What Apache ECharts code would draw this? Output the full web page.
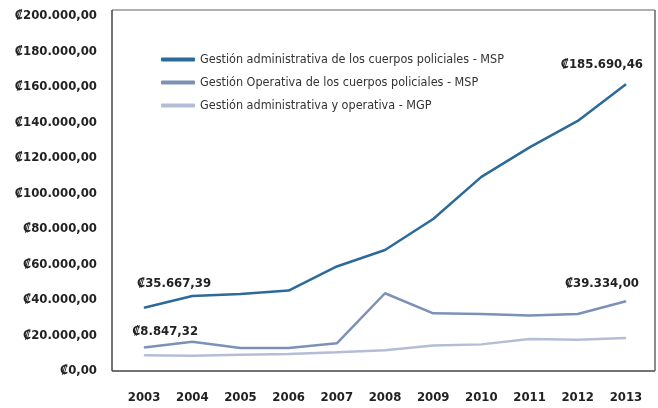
<!DOCTYPE html>
<html><head><meta charset="utf-8">
<script src="https://cdn.jsdelivr.net/npm/echarts@6/dist/echarts.min.js"></script>
<style>html,body{margin:0;padding:0;background:#fff}#c{width:658px;height:408px}</style>
</head><body><div id="c"></div>
<script>
const years = ['2003','2004','2005','2006','2007','2008','2009','2010','2011','2012','2013'];
const seriesNames = [
  'Gestión administrativa de los cuerpos policiales - MSP',
  'Gestión Operativa de los cuerpos policiales - MSP',
  'Gestión administrativa y operativa - MGP'
];
const adminMSP = [35667, 42300, 43400, 45300, 58900, 68200, 85600, 109400, 126000, 140900, 161500];
const operMSP  = [13300, 16500, 13000, 13000, 15600, 43800, 32500, 32100, 31200, 32100, 39300];
const mgp      = [8847, 8600, 9200, 9600, 10500, 11700, 14300, 15000, 18000, 17600, 18600];
const yTicks = [0, 20000, 40000, 60000, 80000, 100000, 120000, 140000, 160000, 180000, 200000];
const annotAdminStart = '₡35.667,39';
const annotAdminEnd = '₡185.690,46';
const annotOperEnd = '₡39.334,00';
const annotMgpStart = '₡8.847,32';

const FONT = '"DejaVu Sans Condensed","Liberation Sans Narrow",sans-serif';
const colors = ['#2c6a9a', '#7b91b6', '#b3bdd6'];

function fmt(v){
  const s = String(v).replace(/\B(?=(\d{3})+(?!\d))/g, '.');
  return '₡' + s + ',00';
}
function lbl(text, offset){
  return {show:true, position:'top', offset:offset, formatter:text,
    fontFamily:FONT, fontWeight:'bold', fontSize:13, color:'#222'};
}
function withLabels(arr, map){
  return arr.map((v,i)=> map[i] ? {value:v, label:map[i]} : v);
}
function lineSeries(idx, arr, map){
  return {name:seriesNames[idx], type:'line', symbol:'circle', symbolSize:1, showSymbol:true,
    lineStyle:{width:2.5, color:colors[idx]}, itemStyle:{color:colors[idx]},
    label:{show:false}, emphasis:{disabled:true},
    data:withLabels(arr, map)};
}

const chart = echarts.init(document.getElementById('c'));
chart.setOption({
  animation:false,
  grid:{left:120, right:8, top:16, bottom:37},
  graphic:[
    {type:'line', shape:{x1:112,y1:10,x2:655,y2:10}, style:{stroke:'#b0b0b0', lineWidth:2}, z:0},
    {type:'line', shape:{x1:112,y1:10,x2:112,y2:371}, style:{stroke:'#444', lineWidth:1.5}, z:0},
    {type:'line', shape:{x1:112,y1:371,x2:655,y2:371}, style:{stroke:'#444', lineWidth:1.5}, z:0},
    {type:'line', shape:{x1:655,y1:10,x2:655,y2:371}, style:{stroke:'#666', lineWidth:1.5}, z:0}
  ],
  legend:{
    orient:'vertical', left:156, top:48, itemGap:10,
    itemWidth:34, itemHeight:4, icon:'roundRect',
    textStyle:{fontFamily:FONT, fontSize:12.5, color:'#333'},
    data:seriesNames
  },
  xAxis:{
    type:'category', data:years, boundaryGap:true,
    axisLine:{show:false}, axisTick:{show:false},
    axisLabel:{interval:0, margin:20, fontFamily:FONT, fontWeight:'bold', fontSize:13, color:'#222'}
  },
  yAxis:{
    type:'value', min:0, max:200000, interval:20000,
    splitLine:{show:false}, axisLine:{show:false}, axisTick:{show:false},
    axisLabel:{margin:23, fontFamily:FONT, fontWeight:'bold', fontSize:13, color:'#222',
      formatter:(v)=> yTicks.includes(v) ? (v===0 ? '₡0,00' : fmt(v)) : ''}
  },
  series:[
    lineSeries(0, adminMSP, {0:lbl(annotAdminStart,[30,-12]), 10:lbl(annotAdminEnd,[-24,-8])}),
    lineSeries(1, operMSP, {10:lbl(annotOperEnd,[-24,-6])}),
    lineSeries(2, mgp, {0:lbl(annotMgpStart,[21,-12])})
  ]
});
</script></body></html>
